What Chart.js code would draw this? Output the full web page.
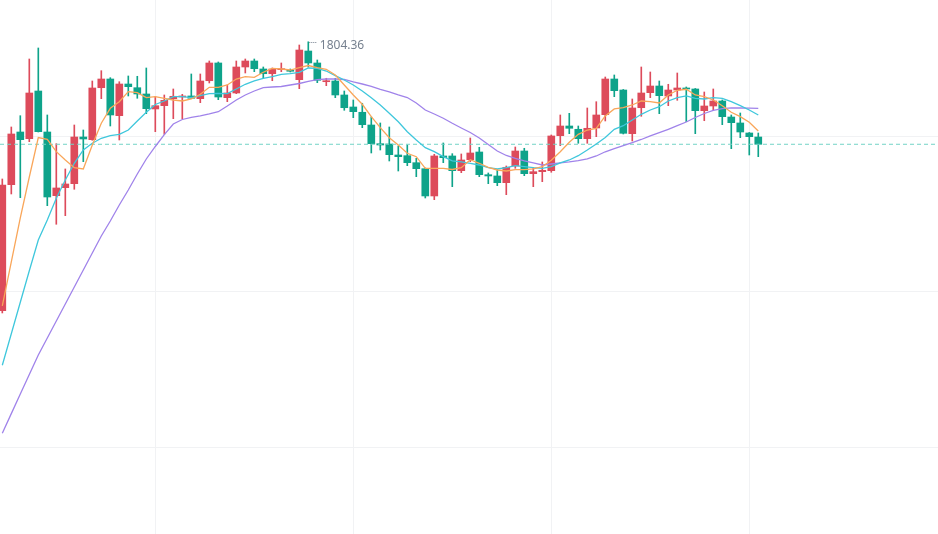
<!DOCTYPE html>
<html>
<head>
<meta charset="utf-8">
<script src="https://cdn.jsdelivr.net/npm/chart.js@4/dist/chart.umd.min.js"></script>
<style>
  html, body { margin: 0; padding: 0; background: #fff; }
  #wrap { width: 938px; height: 534px; }
</style>
</head>
<body>
<div id="wrap"><canvas id="kline" width="938" height="534"></canvas></div>
<script>
/* candle data (price), one entry per bar */
var opens = [
  1717.91, 1758.42, 1775.36, 1773.21, 1788.54, 1775.36, 1754.88, 1757.45, 1758.74, 1773.75,
  1772.89, 1789.60, 1792.40, 1780.60, 1790.79, 1789.60, 1787.58, 1782.76, 1783.82, 1786.07,
  1786.61, 1786.94, 1786.07, 1791.85, 1797.55, 1786.39, 1787.90, 1796.26, 1798.19, 1795.62,
  1794.10, 1795.39, 1795.20, 1792.18, 1801.40, 1797.55, 1791.53, 1791.76, 1787.26, 1783.40,
  1781.70, 1777.61, 1771.60, 1771.50, 1767.97, 1767.74, 1765.49, 1763.56, 1754.79, 1767.65,
  1767.65, 1762.92, 1766.46, 1768.93, 1761.63, 1761.22, 1759.06, 1764.43, 1769.25, 1761.96,
  1762.60, 1762.92, 1774.17, 1777.29, 1776.23, 1773.21, 1776.65, 1780.92, 1792.40, 1788.86,
  1774.82, 1783.17, 1788.00, 1790.15, 1786.94, 1788.86, 1789.51, 1789.19, 1782.21, 1783.72,
  1785.33, 1780.18, 1778.26, 1775.04, 1773.75
];
var highs = [
  1760.25, 1776.97, 1780.60, 1798.83, 1802.37, 1780.83, 1771.60, 1763.47, 1777.61, 1776.00,
  1791.76, 1795.07, 1792.82, 1791.53, 1793.37, 1793.27, 1795.94, 1786.71, 1787.26, 1789.19,
  1787.48, 1794.01, 1794.01, 1798.19, 1797.87, 1790.47, 1798.19, 1798.83, 1798.83, 1796.26,
  1795.94, 1797.55, 1795.62, 1803.33, 1804.36, 1798.51, 1792.63, 1792.63, 1788.54, 1785.65,
  1784.59, 1780.18, 1778.26, 1776.97, 1770.86, 1771.18, 1766.91, 1763.79, 1768.19, 1771.83,
  1768.39, 1768.29, 1773.43, 1770.44, 1762.18, 1763.24, 1764.43, 1770.54, 1770.12, 1763.88,
  1765.72, 1774.40, 1780.83, 1781.37, 1777.29, 1783.08, 1785.10, 1793.04, 1793.69, 1789.03,
  1785.97, 1796.26, 1794.65, 1791.76, 1790.70, 1794.33, 1789.83, 1789.35, 1788.22, 1789.19,
  1785.65, 1780.83, 1781.47, 1775.20, 1775.04
];
var lows = [
  1717.17, 1755.43, 1754.24, 1772.24, 1775.36, 1751.67, 1745.69, 1748.45, 1756.94, 1765.81,
  1772.69, 1786.07, 1777.29, 1772.79, 1786.94, 1786.20, 1781.25, 1775.46, 1774.62, 1779.64,
  1779.64, 1786.20, 1784.78, 1791.12, 1785.75, 1785.10, 1787.68, 1794.33, 1794.75, 1792.82,
  1791.85, 1794.75, 1794.65, 1789.28, 1796.26, 1791.21, 1790.25, 1786.39, 1782.34, 1779.96,
  1776.74, 1768.61, 1769.57, 1766.04, 1762.82, 1764.53, 1760.99, 1754.14, 1753.60, 1765.49,
  1757.78, 1762.28, 1765.81, 1760.99, 1758.74, 1758.10, 1755.20, 1763.69, 1761.31, 1757.78,
  1759.38, 1762.41, 1770.96, 1774.82, 1771.73, 1771.73, 1773.85, 1778.90, 1786.71, 1774.72,
  1772.47, 1780.41, 1786.39, 1781.25, 1783.82, 1785.55, 1778.67, 1774.82, 1778.99, 1782.43,
  1777.71, 1769.99, 1773.53, 1767.97, 1767.42
];
var closes = [
  1758.32, 1774.72, 1772.89, 1787.90, 1775.46, 1754.46, 1757.36, 1758.64, 1773.75, 1773.11,
  1789.51, 1792.40, 1780.83, 1790.79, 1789.93, 1787.58, 1782.85, 1783.82, 1785.55, 1786.84,
  1786.94, 1786.20, 1791.76, 1797.55, 1786.61, 1787.90, 1796.26, 1798.19, 1795.71, 1794.10,
  1795.62, 1795.71, 1794.88, 1801.72, 1797.55, 1791.98, 1791.76, 1787.26, 1783.17, 1781.89,
  1777.71, 1771.60, 1771.18, 1768.06, 1767.42, 1765.49, 1763.56, 1754.79, 1767.65, 1767.10,
  1762.92, 1766.36, 1768.61, 1761.63, 1761.22, 1759.06, 1764.01, 1769.25, 1761.96, 1762.60,
  1763.05, 1774.08, 1777.29, 1776.55, 1773.21, 1776.55, 1780.83, 1792.40, 1788.64, 1774.94,
  1783.08, 1787.90, 1790.15, 1787.03, 1788.86, 1789.51, 1789.19, 1782.21, 1783.72, 1785.33,
  1780.28, 1778.35, 1775.36, 1773.85, 1771.41
];

/* moving average lines as they appear on the chart */
var ma5 = [
  1719.42, 1733.57, 1747.71, 1760.89, 1773.59, 1773.02, 1769.03, 1766.36, 1763.88, 1763.47,
  1771.18, 1778.16, 1782.98, 1785.10, 1788.32, 1788.00, 1786.39, 1786.71, 1786.20, 1785.65,
  1785.33, 1785.97, 1787.48, 1789.73, 1789.73, 1790.47, 1792.40, 1793.14, 1792.95, 1794.56,
  1795.84, 1795.62, 1795.29, 1796.03, 1796.74, 1796.03, 1795.52, 1793.69, 1790.47, 1787.26,
  1784.27, 1780.28, 1776.74, 1773.53, 1771.18, 1768.51, 1767.42, 1763.69, 1763.69, 1763.69,
  1763.31, 1763.88, 1766.46, 1765.30, 1764.01, 1763.14, 1762.82, 1763.24, 1763.24, 1763.47,
  1764.21, 1766.26, 1769.03, 1772.05, 1774.62, 1776.00, 1776.55, 1780.51, 1782.76, 1783.17,
  1784.04, 1785.33, 1785.10, 1784.69, 1787.26, 1788.77, 1789.09, 1787.26, 1786.71, 1785.65,
  1783.82, 1781.70, 1780.28, 1778.48, 1775.68
];
var ma10 = [
  1700.36, 1710.48, 1720.61, 1730.74, 1740.64, 1747.07, 1754.05, 1759.93, 1765.30, 1769.57,
  1771.73, 1773.34, 1774.17, 1774.62, 1776.00, 1778.90, 1781.70, 1784.20, 1785.33, 1786.71,
  1786.71, 1786.39, 1787.03, 1787.68, 1787.80, 1787.68, 1789.19, 1790.70, 1791.76, 1792.63,
  1793.14, 1793.91, 1794.10, 1794.56, 1795.94, 1795.84, 1794.97, 1793.46, 1792.08, 1790.47,
  1788.54, 1786.39, 1784.04, 1781.37, 1778.67, 1775.46, 1772.79, 1770.31, 1769.03, 1767.42,
  1766.10, 1765.72, 1765.30, 1764.75, 1763.88, 1763.47, 1763.88, 1764.53, 1764.21, 1763.88,
  1763.69, 1764.21, 1765.40, 1766.36, 1767.74, 1769.57, 1771.50, 1773.59, 1776.23, 1777.39,
  1779.22, 1781.05, 1782.43, 1783.50, 1785.33, 1786.39, 1786.94, 1786.20, 1785.97, 1786.39,
  1786.20, 1785.10, 1783.82, 1782.43, 1780.83
];
var ma20 = [
  1678.49, 1684.80, 1691.13, 1697.40, 1703.67, 1709.13, 1714.60, 1720.06, 1725.53, 1730.99,
  1736.46, 1741.93, 1746.75, 1751.89, 1756.71, 1761.86, 1766.68, 1770.70, 1774.49, 1777.93,
  1779.38, 1780.09, 1780.51, 1781.15, 1781.89, 1783.72, 1785.65, 1787.26, 1788.54, 1789.60,
  1789.83, 1789.99, 1790.47, 1790.95, 1791.60, 1792.18, 1792.40, 1792.40, 1792.24, 1791.44,
  1790.79, 1789.99, 1789.03, 1788.22, 1787.26, 1786.45, 1784.69, 1782.43, 1781.15, 1779.77,
  1778.16, 1776.65, 1775.20, 1773.43, 1771.34, 1769.25, 1767.81, 1766.84, 1766.04, 1765.40,
  1764.75, 1765.07, 1765.40, 1765.72, 1766.13, 1766.68, 1767.65, 1769.00, 1769.99, 1770.96,
  1771.92, 1772.95, 1774.08, 1775.14, 1776.23, 1777.39, 1778.58, 1780.02, 1781.31, 1782.34,
  1782.85, 1783.14, 1783.08, 1783.01, 1782.98
];

/* visible window and grid positions */
var xGridAt = [17, 39, 61, 83];
var yGridAt = [1674, 1724, 1774];

var UP = '#dd4b5b', DOWN = '#0ea38a';
var viewMin = -0.256, viewMax = 103.97;
var lastClose = closes[closes.length - 1];

var candleColors = closes.map(function(c, i){ return c >= opens[i] ? UP : DOWN; });
var bodyData = opens.map(function(o, i){ return {x: i, y: [o, closes[i]]}; });
var wickData = lows.map(function(l, i){ return {x: i, y: [l, highs[i]]}; });

function toPoints(arr){
  return arr.map(function(v, i){ return {x: i, y: v}; });
}

// label for the highest high with a small dotted leader
var highLabel = {
  id: 'highLabel',
  afterDatasetsDraw: function(chart){
    var idx = 0;
    highs.forEach(function(h, i){ if (h > highs[idx]) idx = i; });
    var xs = chart.scales.x, ys = chart.scales.y;
    var px = xs.getPixelForValue(idx);
    var py = Math.round(ys.getPixelForValue(highs[idx])) + 0.5;
    var ctx = chart.ctx;
    ctx.save();
    ctx.strokeStyle = '#76808f';
    ctx.lineWidth = 1;
    ctx.setLineDash([1, 1]);
    ctx.beginPath();
    ctx.moveTo(px + 1, py);
    ctx.lineTo(px + 9, py);
    ctx.stroke();
    ctx.setLineDash([]);
    ctx.fillStyle = '#76808f';
    ctx.font = '12px "Noto Sans", "DejaVu Sans", sans-serif';
    ctx.textBaseline = 'middle';
    ctx.textAlign = 'left';
    ctx.fillText(highs[idx].toFixed(2), px + 11.5, py + 3);
    ctx.restore();
  }
};

var chart = new Chart(document.getElementById('kline'), {
  type: 'bar',
  data: {
    datasets: [{
      type: 'line', label: 'MA5', data: toPoints(ma5),
      borderColor: '#f9a65a', borderWidth: 1.3, pointRadius: 0, tension: 0, fill: false, order: 0
    }, {
      type: 'line', label: 'MA10', data: toPoints(ma10),
      borderColor: '#3fc7dc', borderWidth: 1.3, pointRadius: 0, tension: 0, fill: false, order: 0
    }, {
      type: 'line', label: 'MA20', data: toPoints(ma20),
      borderColor: '#a083ea', borderWidth: 1.3, pointRadius: 0, tension: 0, fill: false, order: 0
    }, {
      type: 'line', label: 'last', data: [{x: viewMin, y: lastClose}, {x: viewMax, y: lastClose}],
      borderColor: '#73d3c6', borderWidth: 1, borderDash: [4, 3], pointRadius: 0, fill: false, order: 0
    }, {
      label: 'body', data: bodyData, backgroundColor: candleColors,
      barThickness: 7, minBarLength: 1, borderWidth: 0, grouped: false, order: 1
    }, {
      label: 'wick', data: wickData, backgroundColor: candleColors,
      barThickness: 1, borderWidth: 0, grouped: false, order: 2
    }]
  },
  options: {
    responsive: false,
    animation: false,
    layout: { padding: 0 },
    plugins: { legend: { display: false }, tooltip: { enabled: false } },
    scales: {
      x: {
        type: 'linear', min: viewMin, max: viewMax, offset: false,
        afterBuildTicks: function(s){ s.ticks = xGridAt.map(function(v){ return {value: v}; }); },
        ticks: { display: false },
        grid: { color: '#f1f2f4', drawTicks: false, offset: false },
        border: { display: false }
      },
      y: {
        min: 1646.1, max: 1817.8,
        afterBuildTicks: function(s){ s.ticks = yGridAt.map(function(v){ return {value: v}; }); },
        ticks: { display: false },
        grid: { color: '#f1f2f4', drawTicks: false },
        border: { display: false }
      }
    }
  },
  plugins: [highLabel]
});
</script>
</body>
</html>
